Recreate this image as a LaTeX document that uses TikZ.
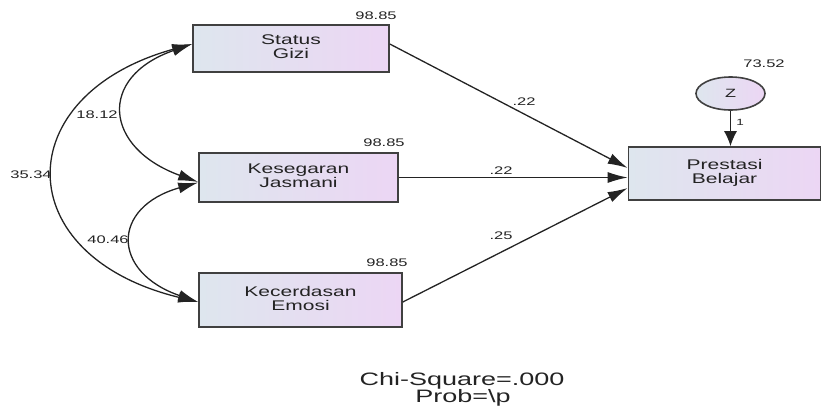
\documentclass[tikz,border=0pt]{standalone}
\usepackage{fontspec}
\setmainfont{Liberation Sans}
\usepackage{graphicx}
\usetikzlibrary{arrows.meta,shapes.geometric,calc}
\definecolor{boxL}{RGB}{222,230,238}
\definecolor{boxR}{RGB}{236,214,244}
\definecolor{edgec}{RGB}{64,64,64}
\definecolor{ink}{RGB}{35,35,35}
\newcommand{\hs}[1]{\scalebox{1.5}[1]{#1}}
\begin{document}
\begin{tikzpicture}[x=1pt,y=-1pt,
  obs/.style={draw=edgec, line width=1.6pt, left color=boxL, right color=boxR, inner sep=0pt, text=ink, font=\fontsize{14}{13}\selectfont},
  numlbl/.style={text=ink, font=\fontsize{11}{11}\selectfont, inner sep=0pt},
  reg/.style={draw=ink, line width=1.3pt, -{Latex[length=20pt,width=11pt]}},
  cov/.style={draw=ink, line width=1.3pt, {Latex[length=20pt,width=11pt]}-{Latex[length=20pt,width=11pt]}},
  bigtext/.style={text=ink, font=\fontsize{18}{17.5}\selectfont, inner sep=0pt}]
\useasboundingbox (0,0) rectangle (824,407);

% observed variables
\node[obs, minimum width=196pt, minimum height=47pt] (SG) at (291,48.5)
  {\hs{\begin{tabular}{@{}c@{}}Status\\Gizi\end{tabular}}};
\node[obs, minimum width=199pt, minimum height=49pt] (KJ) at (298.5,177.5)
  {\hs{\begin{tabular}{@{}c@{}}Kesegaran\\Jasmani\end{tabular}}};
\node[obs, minimum width=203pt, minimum height=54pt] (KE) at (300.5,300)
  {\hs{\begin{tabular}{@{}c@{}}Kecerdasan\\Emosi\end{tabular}}};
\node[obs, minimum width=192pt, minimum height=53pt] (PB) at (724.5,173.5)
  {\hs{\begin{tabular}{@{}c@{}}Prestasi\\Belajar\end{tabular}}};

% error term
\node[ellipse, draw=edgec, line width=1.6pt, left color=boxL, right color=boxR,
  minimum width=69pt, minimum height=33pt, inner sep=0pt, text=ink,
  font=\fontsize{12}{12}\selectfont] (Z) at (730.5,93.5) {\hs{Z}};

% variances
\node[numlbl] (vSG) at (376,16) {\hs{98.85}};
\node[numlbl] (vKJ) at (384,143) {\hs{98.85}};
\node[numlbl] (vKE) at (387,263) {\hs{98.85}};
\node[numlbl] (vZ) at (764,64) {\hs{73.52}};

% regression paths
\draw[reg] ([yshift=4.5pt]SG.east) -- ([yshift=5.5pt]PB.west);
\draw[reg] (KJ.east) -- (KJ.east -| PB.west);
\draw[reg] ([yshift=-2pt]KE.east) -- ([yshift=-14.5pt]PB.west);
\draw[draw=ink, line width=1.3pt, -{Latex[length=15pt,width=13pt]}] (Z.south) -- (Z.south |- PB.north);

% covariances
\draw[cov] ([yshift=4.5pt]SG.west) .. controls (97,77) and (104,148) .. ([yshift=-4.5pt]KJ.west);
\draw[cov] ([yshift=-5pt]KJ.west) .. controls (111,207) and (111,272) .. ([yshift=-2pt]KE.west);
\draw[cov] ([yshift=4.5pt]SG.west) .. controls (8,95) and (8,256) .. ([yshift=-2pt]KE.west);

% path labels
\node[numlbl] (w1) at (524,102) {\hs{.22}};
\node[numlbl] (w2) at (501,171) {\hs{.22}};
\node[numlbl] (w3) at (501,236) {\hs{.25}};
\node[numlbl, font=\fontsize{9}{9}\selectfont] (w4) at (740,122) {\hs{1}};
\node[numlbl] (c1) at (97,115) {\hs{18.12}};
\node[numlbl] (c2) at (31,175) {\hs{35.34}};
\node[numlbl] (c3) at (108,240) {\hs{40.46}};

% fit statistics
\node[bigtext] (chi) at (462,381) {\hs{Chi-Square=.000}};
\node[bigtext] (prob) at (463,398) {\hs{Prob=\textbackslash p}};
\end{tikzpicture}
\end{document}
